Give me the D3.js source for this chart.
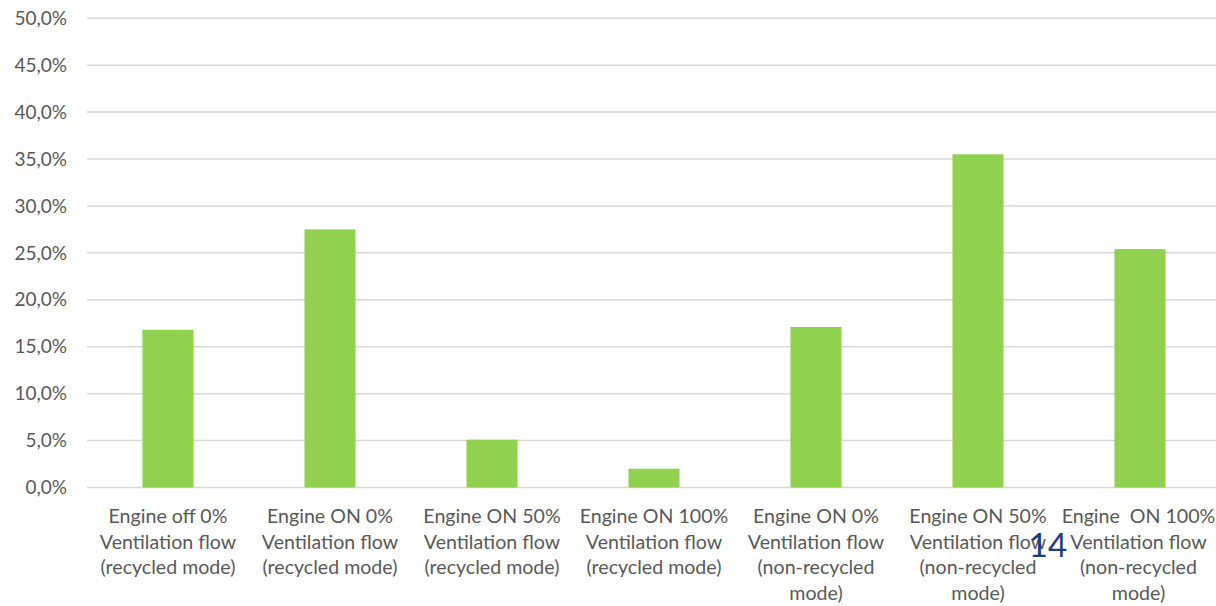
<!DOCTYPE html>
<html><head><meta charset="utf-8">
<script src="https://cdn.jsdelivr.net/npm/d3@7"></script>
<style>
html,body{margin:0;padding:0;background:#fff;}
svg{display:block;}
text{font-family:Lato,"Open Sans",sans-serif;}
</style></head>
<body>
<svg id="chart" width="1216" height="606"></svg>
<script>
const categories = [
  ["Engine off 0%", "Ventilation flow", "(recycled mode)"],
  ["Engine ON 0%", "Ventilation flow", "(recycled mode)"],
  ["Engine ON 50%", "Ventilation flow", "(recycled mode)"],
  ["Engine ON 100%", "Ventilation flow", "(recycled mode)"],
  ["Engine ON 0%", "Ventilation flow", "(non-recycled", "mode)"],
  ["Engine ON 50%", "Ventilation flow", "(non-recycled", "mode)"],
  ["Engine  ON 100%", "Ventilation flow", "(non-recycled", "mode)"]
];
const values = [16.8, 27.5, 5.1, 2.0, 17.1, 35.5, 25.4];
const yTicks = [0, 5, 10, 15, 20, 25, 30, 35, 40, 45, 50];
const pageNumber = "14";

const svg = d3.select("#chart");
const mLeft = 87, mRight = 1221, mTop = 18.2, mBottom = 487.5;

const x = d3.scaleBand().domain(d3.range(categories.length)).range([mLeft, mRight]).paddingInner(0.685).paddingOuter(0.3425);
const y = d3.scaleLinear().domain([0, 50]).range([mBottom, mTop]);

// gridlines
svg.append("g").selectAll("line").data(yTicks).join("line")
  .attr("x1", mLeft).attr("x2", 1216)
  .attr("y1", d => y(d)).attr("y2", d => y(d))
  .attr("stroke", "#D9D9D9").attr("stroke-width", 1.5);

// y axis labels
const fmt = d => d.toFixed(1).replace(".", ",") + "%";
svg.append("g").selectAll("text").data(yTicks).join("text")
  .attr("x", 67).attr("y", d => y(d)).attr("dy", "0.35em")
  .attr("text-anchor", "end").attr("fill", "#595959").attr("font-size", 19)
  .text(fmt);

// bars
svg.append("g").selectAll("rect").data(values).join("rect")
  .attr("x", (d, i) => x(i)).attr("width", x.bandwidth())
  .attr("y", d => y(d)).attr("height", d => y(0) - y(d))
  .attr("fill", "#92D050");

// category labels
const lab = svg.append("g").selectAll("text").data(categories).join("text")
  .attr("text-anchor", "middle").attr("fill", "#595959").attr("font-size", 19.6)
  .style("white-space", "pre");
lab.each(function(lines, i) {
  const t = d3.select(this);
  lines.forEach((ln, j) => {
    t.append("tspan").attr("x", x(i) + x.bandwidth() / 2 - (i === categories.length - 1 ? 1.5 : 0)).attr("y", 523 + j * 25.7).text(ln);
  });
});

// page number overlay
svg.append("text").attr("x", 1048).attr("y", 557).attr("text-anchor", "middle")
  .attr("fill", "#1F3B80").attr("font-size", 33).text(pageNumber);
</script>
</body></html>
